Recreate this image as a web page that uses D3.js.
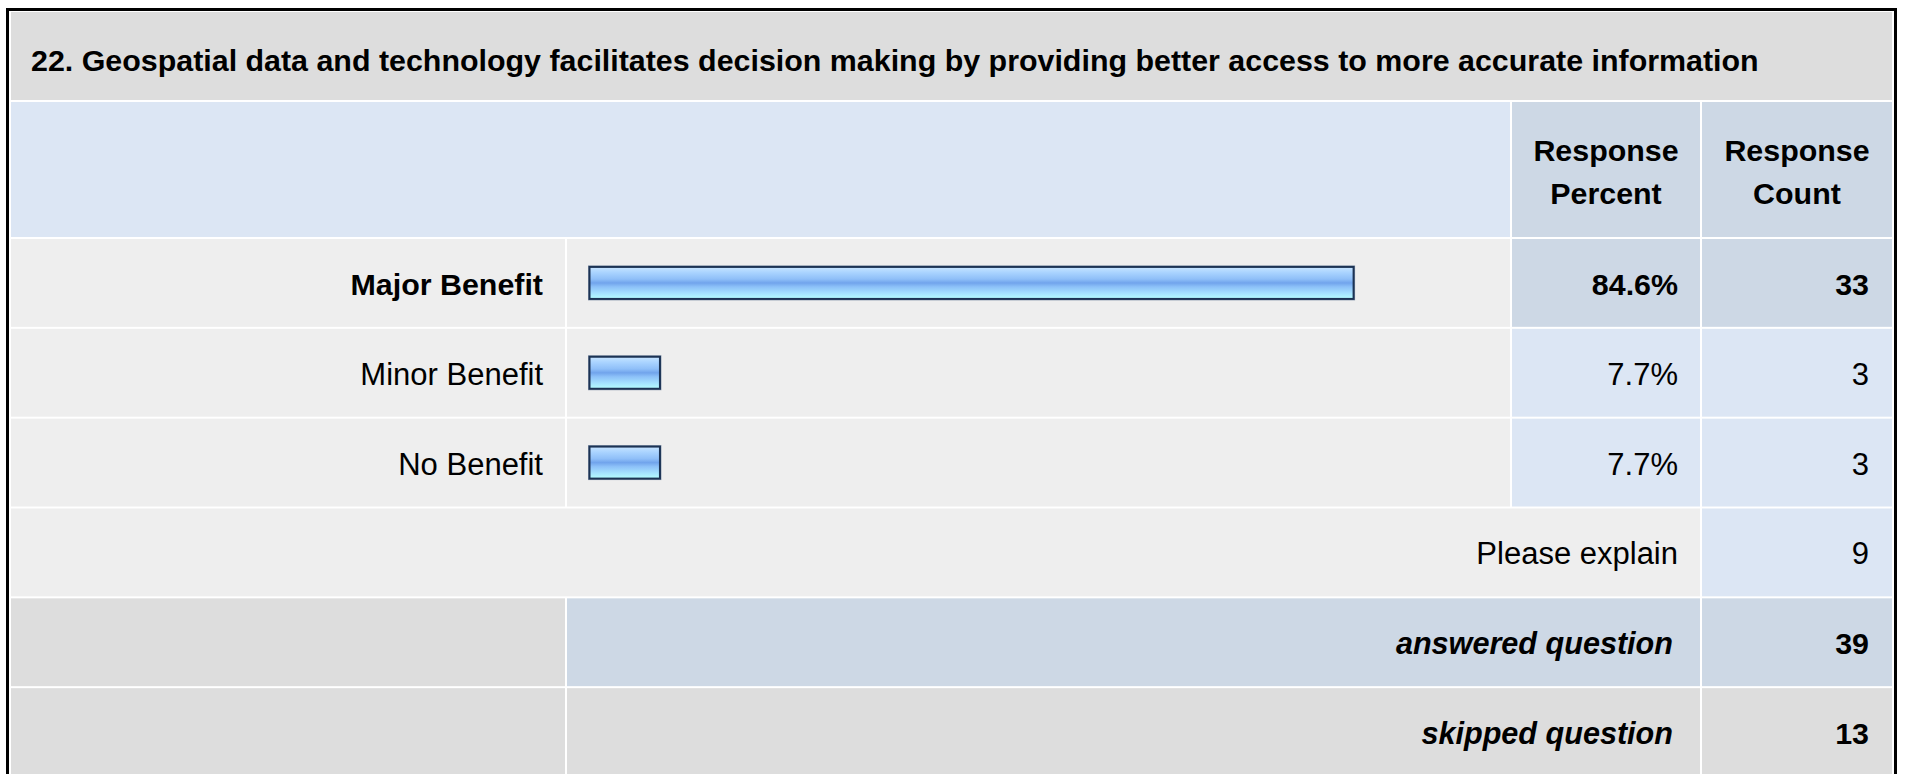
<!DOCTYPE html>
<html>
<head>
<meta charset="utf-8">
<script src="https://cdn.jsdelivr.net/npm/d3@7"></script>
<style>
  html, body { margin: 0; padding: 0; background: #ffffff; }
  svg { display: block; }
  text { font-family: "Liberation Sans", Arial, Helvetica, sans-serif; fill: #000; }
</style>
</head>
<body>
<svg id="chart" width="1907" height="774"></svg>
<script>
// ---- data ----
const title = "22. Geospatial data and technology facilitates decision making by providing better access to more accurate information";
const headerLabels = [["Response", "Percent"], ["Response", "Count"]];
const categories = ["Major Benefit", "Minor Benefit", "No Benefit"];
const percents = [84.6, 7.7, 7.7];
const counts = [33, 3, 3];
const explainLabel = "Please explain";
const explainCount = 9;
const summaryLabels = ["answered question", "skipped question"];
const summaryCounts = [39, 13];

// ---- layout ----
const svg = d3.select("#chart");
const FS_REG = 31, FS_BOLD = 30.4, FS_BI = 30.6;

const C = { greyTitle: "#dddddd", light: "#eeeeee", blueL: "#dce6f4", blueD: "#cdd8e5", grey: "#dddddd" };

// columns
const col = {
  label: [11, 565],
  bar: [567, 1510],
  pct: [1512, 1700],
  cnt: [1702, 1892]
};

// rows (data rows + explain + summaries) via band scale
const rowKeys = categories.concat([explainLabel], summaryLabels);
const y = d3.scaleBand().domain(rowKeys).range([239, 776]).paddingInner(0.0223).paddingOuter(0);
const bw = y.bandwidth();
const baseline = k => y(k) + bw / 2 + 12;

// bar scale
const x = d3.scaleLinear().domain([0, 100]).range([0, 902]);

// defs gradient
const defs = svg.append("defs");
const grad = defs.append("linearGradient").attr("id", "barGrad").attr("x1", 0).attr("y1", 0).attr("x2", 0).attr("y2", 1);
[["0%", "#c8e5ff"], ["18%", "#a9d3ff"], ["38%", "#8fbff8"], ["50%", "#71a4ec"], ["62%", "#8cc0f8"], ["80%", "#a3defe"], ["100%", "#b6ffff"]]
  .forEach(([o, c]) => grad.append("stop").attr("offset", o).attr("stop-color", c));

function cell(x0, x1, y0, h, fill) {
  svg.append("rect").attr("x", x0).attr("y", y0).attr("width", x1 - x0).attr("height", h).attr("fill", fill);
}

// title band
cell(11, 1892, 12, 88, C.greyTitle);
svg.append("text").attr("x", 31).attr("y", 71).attr("font-size", FS_BOLD).attr("font-weight", "bold").text(title);

// header band
cell(col.label[0], col.bar[1], 102, 135, C.blueL);
cell(col.pct[0], col.pct[1], 102, 135, C.blueD);
cell(col.cnt[0], col.cnt[1], 102, 135, C.blueD);
[col.pct, col.cnt].forEach((c, i) => {
  const t = svg.append("text").attr("text-anchor", "middle").attr("font-size", FS_BOLD).attr("font-weight", "bold");
  headerLabels[i].forEach((line, j) => {
    t.append("tspan").attr("x", (c[0] + c[1]) / 2).attr("y", 161 + j * 43).text(line);
  });
});

// data rows
const maxPct = d3.max(percents);
categories.forEach((cat, i) => {
  const y0 = y(cat);
  const isMax = percents[i] === maxPct;
  cell(col.label[0], col.label[1], y0, bw, C.light);
  cell(col.bar[0], col.bar[1], y0, bw, C.light);
  cell(col.pct[0], col.pct[1], y0, bw, isMax ? C.blueD : C.blueL);
  cell(col.cnt[0], col.cnt[1], y0, bw, isMax ? C.blueD : C.blueL);

  const fw = isMax ? "bold" : "normal";
  const fs = isMax ? FS_BOLD : FS_REG;
  svg.append("text").attr("x", 543).attr("y", baseline(cat)).attr("text-anchor", "end")
    .attr("font-size", fs).attr("font-weight", fw).text(cat);
  svg.append("text").attr("x", 1678).attr("y", baseline(cat)).attr("text-anchor", "end")
    .attr("font-size", fs).attr("font-weight", fw).text(percents[i].toFixed(1) + "%");
  svg.append("text").attr("x", 1869).attr("y", baseline(cat)).attr("text-anchor", "end")
    .attr("font-size", fs).attr("font-weight", fw).text(counts[i]);

  // bar
  const bx = 588, bh = 35, by = y0 + bw / 2 - bh / 2;
  const bwid = x(percents[i]) + 4;
  svg.append("rect").attr("x", bx).attr("y", by).attr("width", bwid).attr("height", bh)
    .attr("fill", "#8e9cb0");
  svg.append("rect").attr("x", bx + 1.5).attr("y", by + 1.5).attr("width", bwid - 3).attr("height", bh - 3)
    .attr("fill", "url(#barGrad)").attr("stroke", "#1c3354").attr("stroke-width", 2);
});

// explain row
{
  const y0 = y(explainLabel);
  cell(col.label[0], col.pct[1], y0, bw, C.light);
  cell(col.cnt[0], col.cnt[1], y0, bw, C.blueL);
  svg.append("text").attr("x", 1678).attr("y", baseline(explainLabel)).attr("text-anchor", "end")
    .attr("font-size", FS_REG).text(explainLabel);
  svg.append("text").attr("x", 1869).attr("y", baseline(explainLabel)).attr("text-anchor", "end")
    .attr("font-size", FS_REG).text(explainCount);
}

// summary rows
summaryLabels.forEach((lab, i) => {
  const y0 = y(lab);
  const mid = i === 0 ? C.blueD : C.grey;
  cell(col.label[0], col.label[1], y0, bw, C.grey);
  cell(col.bar[0], col.pct[1], y0, bw, mid);
  cell(col.cnt[0], col.cnt[1], y0, bw, mid);
  svg.append("text").attr("x", 1673).attr("y", baseline(lab)).attr("text-anchor", "end")
    .attr("font-size", FS_BI).attr("font-weight", "bold").attr("font-style", "italic").text(lab);
  svg.append("text").attr("x", 1869).attr("y", baseline(lab)).attr("text-anchor", "end")
    .attr("font-size", FS_BOLD).attr("font-weight", "bold").text(summaryCounts[i]);
});

// outer border
svg.append("rect").attr("x", 7.5).attr("y", 9.5).attr("width", 1888).attr("height", 900)
  .attr("fill", "none").attr("stroke", "#000").attr("stroke-width", 3);
</script>
</body>
</html>
